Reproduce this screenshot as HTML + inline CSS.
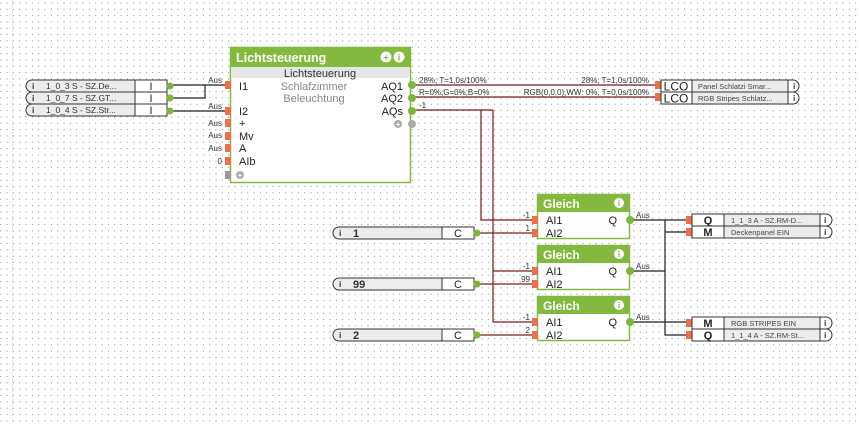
<!DOCTYPE html>
<html><head><meta charset="utf-8"><style>
html,body{margin:0;padding:0;background:#fff;}
svg{display:block;}
text{font-family:"Liberation Sans",Arial,sans-serif;}
</style></head><body>
<svg width="859" height="424" viewBox="0 0 859 424" xmlns="http://www.w3.org/2000/svg">
<defs>
<pattern id="g" width="6.333" height="6.333" patternUnits="userSpaceOnUse" x="0.2" y="2.4">
<rect x="0" y="0" width="1" height="1" fill="#8c8c8c"/>
</pattern>
</defs>
<rect width="859" height="424" fill="#fff"/>
<rect width="859" height="424" fill="url(#g)"/>
<line x1="12.5" y1="0" x2="12.5" y2="424" stroke="#e0e0e0" stroke-width="1" stroke-dasharray="2,1"/>

<!-- ===== wires ===== -->
<g fill="none" stroke-width="1.2">
 <g stroke="#222">
  <polyline points="173,85 226,85"/>
  <polyline points="173,98 205,98 205,85"/>
  <polyline points="173,111 226,111"/>
  <polyline points="632,220 687,220"/>
  <polyline points="665,220 665,335 687,335"/>
  <polyline points="665,232 687,232"/>
  <polyline points="632,271 665,271"/>
  <polyline points="632,322 687,322"/>
 </g>
 <g stroke="#7a1c1c">
  <polyline points="414,85 656,85"/>
  <polyline points="414,97 656,97"/>
  <polyline points="414,110 493,110"/>
  <polyline points="481,110 481,220 533,220"/>
  <polyline points="493,110 493,322 533,322"/>
  <polyline points="493,271 533,271"/>
  <polyline points="480,233 533,233"/>
  <polyline points="480,284 533,284"/>
  <polyline points="480,335 533,335"/>
 </g>
</g>

<!-- wire labels -->
<g font-size="8" fill="#333">
 <text x="222" y="83" text-anchor="end">Aus</text>
 <text x="222" y="109" text-anchor="end">Aus</text>
 <text x="222" y="126" text-anchor="end">Aus</text>
 <text x="222" y="138" text-anchor="end">Aus</text>
 <text x="222" y="151" text-anchor="end">Aus</text>
 <text x="222" y="164" text-anchor="end">0</text>
 <text x="419" y="83">28%; T=1,0s/100%</text>
 <text x="649" y="83" text-anchor="end">28%; T=1,0s/100%</text>
 <text x="419" y="95">R=0%;G=0%;B=0%</text>
 <text x="649" y="95" text-anchor="end">RGB(0,0,0),WW: 0%, T=0,0s/100%</text>
 <text x="419" y="108">-1</text>
 <text x="530" y="218" text-anchor="end">-1</text>
 <text x="530" y="231" text-anchor="end">1</text>
 <text x="530" y="269" text-anchor="end">-1</text>
 <text x="530" y="282" text-anchor="end">99</text>
 <text x="530" y="320" text-anchor="end">-1</text>
 <text x="530" y="333" text-anchor="end">2</text>
 <text x="636" y="218">Aus</text>
 <text x="636" y="269">Aus</text>
 <text x="636" y="320">Aus</text>
</g>

<!-- ===== left inputs ===== -->
<g stroke="#333" stroke-width="1">
 <path d="M32 80 H167 V92 H32 A6 6 0 0 1 32 80 Z" fill="#ececec"/>
 <path d="M32 92 H167 V104 H32 A6 6 0 0 1 32 92 Z" fill="#ececec"/>
 <path d="M32 104 H167 V116 H32 A6 6 0 0 1 32 104 Z" fill="#ececec"/>
 <rect x="135" y="80" width="32" height="12" fill="#fff"/>
 <rect x="135" y="92" width="32" height="12" fill="#fff"/>
 <rect x="135" y="104" width="32" height="12" fill="#fff"/>
</g>
<g font-size="8.5" fill="#333">
 <text x="32" y="89" font-weight="bold">i</text>
 <text x="32" y="101" font-weight="bold">i</text>
 <text x="32" y="113" font-weight="bold">i</text>
 <text x="46" y="89">1_0_3  S  -  SZ.De...</text>
 <text x="46" y="101">1_0_7  S  -  SZ.GT...</text>
 <text x="46" y="113">1_0_4  S  -  SZ.Str...</text>
</g>
<g font-size="11" fill="#222" text-anchor="middle">
 <text x="151" y="90">I</text>
 <text x="151" y="102">I</text>
 <text x="151" y="114">I</text>
</g>
<g fill="#7cb63a">
 <circle cx="170" cy="86" r="3.5"/>
 <circle cx="170" cy="98" r="3.5"/>
 <circle cx="170" cy="111" r="3.5"/>
</g>

<!-- ===== Lichtsteuerung block ===== -->
<rect x="230.5" y="47.5" width="180" height="135" fill="#fff" stroke="#82b93e" stroke-width="1.5"/>
<rect x="230" y="47" width="181" height="20" fill="#82b93e"/>
<rect x="231" y="67" width="179" height="11" fill="#e6e6e6"/>
<text x="236" y="62" font-size="12.5" font-weight="bold" fill="#fff">Lichtsteuerung</text>
<circle cx="386" cy="57" r="5.5" fill="#fff"/>
<text x="386" y="60.5" font-size="9" fill="#82b93e" text-anchor="middle" font-weight="bold">+</text>
<circle cx="399" cy="57" r="5.5" fill="#fff"/>
<text x="399" y="60.5" font-size="9" fill="#82b93e" text-anchor="middle" font-weight="bold">i</text>
<text x="320" y="77" font-size="11" fill="#333" text-anchor="middle">Lichtsteuerung</text>
<g font-size="11" fill="#222">
 <text x="239" y="90">I1</text>
 <text x="239" y="115">I2</text>
 <text x="239" y="127">+</text>
 <text x="239" y="140">Mv</text>
 <text x="239" y="152">A</text>
 <text x="239" y="165">AIb</text>
 <text x="403" y="90" text-anchor="end">AQ1</text>
 <text x="403" y="102" text-anchor="end">AQ2</text>
 <text x="403" y="115" text-anchor="end">AQs</text>
</g>
<text x="314" y="90" font-size="11" fill="#888" text-anchor="middle">Schlafzimmer</text>
<text x="314" y="102" font-size="11" fill="#888" text-anchor="middle">Beleuchtung</text>
<circle cx="240" cy="175" r="4" fill="#aaa"/>
<text x="240" y="178" font-size="8" fill="#fff" text-anchor="middle" font-weight="bold">+</text>
<circle cx="398" cy="124" r="4" fill="#aaa"/>
<text x="398" y="127" font-size="8" fill="#fff" text-anchor="middle" font-weight="bold">+</text>
<g fill="#ef6e4c">
 <rect x="225" y="81" width="6" height="8"/>
 <rect x="225" y="107" width="6" height="8"/>
 <rect x="225" y="119" width="6" height="8"/>
 <rect x="225" y="132" width="6" height="8"/>
 <rect x="225" y="144" width="6" height="8"/>
 <rect x="225" y="157" width="6" height="8"/>
</g>
<rect x="225" y="171" width="6" height="8" fill="#999"/>
<g fill="#7cb63a">
 <circle cx="412" cy="85" r="4"/>
 <circle cx="412" cy="98" r="4"/>
 <circle cx="412" cy="111" r="4"/>
</g>
<circle cx="412" cy="124" r="4" fill="#aaa"/>

<!-- ===== LCO outputs ===== -->
<g fill="#ef6e4c">
 <rect x="655" y="81" width="6" height="8"/>
 <rect x="655" y="93" width="6" height="8"/>
</g>
<g stroke="#333" stroke-width="1">
 <path d="M661 80 H793 A6 6 0 0 1 793 92 H661 Z" fill="#fff"/>
 <path d="M661 92 H793 A6 6 0 0 1 793 104 H661 Z" fill="#fff"/>
 <rect x="692" y="80" width="96" height="12" fill="#ececec"/>
 <rect x="692" y="92" width="96" height="12" fill="#ececec"/>
</g>
<g font-size="12" fill="#222" text-anchor="middle">
 <text x="676" y="90.5">LCO</text>
 <text x="676" y="102.5">LCO</text>
</g>
<g font-size="7.5" fill="#444">
 <text x="698" y="89">Panel  Schlatzi  Smar...</text>
 <text x="698" y="101">RGB  Stripes  Schlatz...</text>
 <text x="793" y="89" font-weight="bold" font-size="8.5">i</text>
 <text x="793" y="101" font-weight="bold" font-size="8.5">i</text>
</g>

<!-- ===== Constants ===== -->
<g stroke="#333" stroke-width="1">
 <path d="M339 227 H474 V239 H339 A6 6 0 0 1 339 227 Z" fill="#ececec"/>
 <path d="M339 278 H474 V290 H339 A6 6 0 0 1 339 278 Z" fill="#ececec"/>
 <path d="M339 329 H474 V341 H339 A6 6 0 0 1 339 329 Z" fill="#ececec"/>
 <rect x="442" y="227" width="32" height="12" fill="#fff"/>
 <rect x="442" y="278" width="32" height="12" fill="#fff"/>
 <rect x="442" y="329" width="32" height="12" fill="#fff"/>
</g>
<g font-size="8.5" fill="#333" font-weight="bold">
 <text x="339" y="236">i</text>
 <text x="339" y="287">i</text>
 <text x="339" y="338">i</text>
</g>
<g font-size="11" fill="#333" font-weight="bold">
 <text x="353" y="237">1</text>
 <text x="353" y="288">99</text>
 <text x="353" y="339">2</text>
</g>
<g font-size="11" fill="#222" text-anchor="middle">
 <text x="458" y="237">C</text>
 <text x="458" y="288">C</text>
 <text x="458" y="339">C</text>
</g>
<g fill="#7cb63a">
 <circle cx="477" cy="233" r="3.5"/>
 <circle cx="477" cy="284" r="3.5"/>
 <circle cx="477" cy="335" r="3.5"/>
</g>

<!-- ===== Gleich blocks ===== -->
<g>
 <rect x="537.5" y="194.5" width="92" height="44" fill="#fff" stroke="#82b93e" stroke-width="1.5"/>
 <rect x="537" y="194" width="93" height="18" fill="#82b93e"/>
 <rect x="537.5" y="245.5" width="92" height="44" fill="#fff" stroke="#82b93e" stroke-width="1.5"/>
 <rect x="537" y="245" width="93" height="18" fill="#82b93e"/>
 <rect x="537.5" y="296.5" width="92" height="44" fill="#fff" stroke="#82b93e" stroke-width="1.5"/>
 <rect x="537" y="296" width="93" height="18" fill="#82b93e"/>
</g>
<g font-size="12" fill="#fff" font-weight="bold">
 <text x="543" y="208">Gleich</text>
 <text x="543" y="259">Gleich</text>
 <text x="543" y="310">Gleich</text>
</g>
<g fill="#fff">
 <circle cx="619" cy="203" r="5"/>
 <circle cx="619" cy="254" r="5"/>
 <circle cx="619" cy="305" r="5"/>
</g>
<g font-size="8.5" fill="#82b93e" font-weight="bold" text-anchor="middle">
 <text x="619" y="206">i</text>
 <text x="619" y="257">i</text>
 <text x="619" y="308">i</text>
</g>
<g font-size="11" fill="#222">
 <text x="546" y="224">AI1</text>
 <text x="546" y="237">AI2</text>
 <text x="546" y="275">AI1</text>
 <text x="546" y="288">AI2</text>
 <text x="546" y="326">AI1</text>
 <text x="546" y="339">AI2</text>
 <text x="617" y="224" text-anchor="end">Q</text>
 <text x="617" y="275" text-anchor="end">Q</text>
 <text x="617" y="326" text-anchor="end">Q</text>
</g>
<g fill="#ef6e4c">
 <rect x="532" y="216" width="6" height="8"/>
 <rect x="532" y="229" width="6" height="8"/>
 <rect x="532" y="267" width="6" height="8"/>
 <rect x="532" y="280" width="6" height="8"/>
 <rect x="532" y="318" width="6" height="8"/>
 <rect x="532" y="331" width="6" height="8"/>
</g>
<g fill="#7cb63a">
 <circle cx="630" cy="220" r="4"/>
 <circle cx="630" cy="271" r="4"/>
 <circle cx="630" cy="322" r="4"/>
</g>

<!-- ===== right outputs ===== -->
<g fill="#ef6e4c">
 <rect x="686" y="216" width="6" height="8"/>
 <rect x="686" y="228" width="6" height="8"/>
 <rect x="686" y="319" width="6" height="8"/>
 <rect x="686" y="331" width="6" height="8"/>
</g>
<g stroke="#333" stroke-width="1">
 <path d="M692 214 H826 A6 6 0 0 1 826 226 H692 Z" fill="#fff"/>
 <path d="M692 226 H826 A6 6 0 0 1 826 238 H692 Z" fill="#fff"/>
 <path d="M692 317 H826 A6 6 0 0 1 826 329 H692 Z" fill="#fff"/>
 <path d="M692 329 H826 A6 6 0 0 1 826 341 H692 Z" fill="#fff"/>
 <rect x="724" y="214" width="96" height="12" fill="#ececec"/>
 <rect x="724" y="226" width="96" height="12" fill="#ececec"/>
 <rect x="724" y="317" width="96" height="12" fill="#ececec"/>
 <rect x="724" y="329" width="96" height="12" fill="#ececec"/>
</g>
<g font-size="11" fill="#222" font-weight="bold" text-anchor="middle">
 <text x="708" y="224">Q</text>
 <text x="708" y="236">M</text>
 <text x="708" y="327">M</text>
 <text x="708" y="339">Q</text>
</g>
<g font-size="7.5" fill="#444">
 <text x="731" y="223">1_1_3  A  -  SZ.RM-D...</text>
 <text x="731" y="235">Deckenpanel EIN</text>
 <text x="731" y="326">RGB STRIPES EIN</text>
 <text x="731" y="338">1_1_4  A  -  SZ.RM-St...</text>
</g>
<g font-size="8.5" fill="#333" font-weight="bold">
 <text x="824" y="223">i</text>
 <text x="824" y="235">i</text>
 <text x="824" y="326">i</text>
 <text x="824" y="338">i</text>
</g>
</svg>
</body></html>
